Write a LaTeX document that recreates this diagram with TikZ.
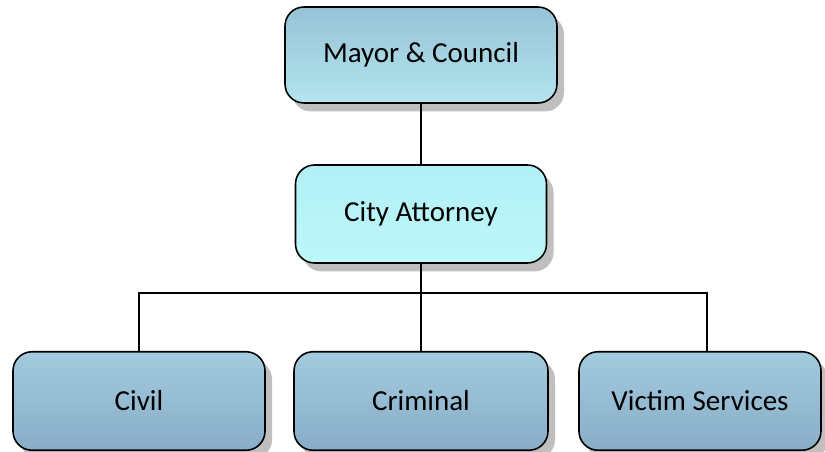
\documentclass[tikz,border=0pt]{standalone}
\usepackage{fontspec}
\setmainfont{Carlito}
\usetikzlibrary{shadows}

\definecolor{mayortop}{HTML}{96C3D6}
\definecolor{mayorbot}{HTML}{B4E4EF}
\definecolor{citytop}{HTML}{B2F0F6}
\definecolor{citybot}{HTML}{BCF7FA}
\definecolor{unittop}{HTML}{A2CBDE}
\definecolor{unitbot}{HTML}{89ADC8}

\tikzset{
	orgbox/.style={draw=black, line width=0.9pt, rounded corners=0.38cm,
		inner sep=0pt, align=center, font=\fontsize{16.5}{19}\selectfont,
		drop shadow={shadow xshift=0.14cm, shadow yshift=-0.17cm, fill=black!25, opacity=1}},
	toplevel/.style={orgbox, top color=mayortop, bottom color=mayorbot},
	attorney/.style={orgbox, top color=citytop, bottom color=citybot},
	unit/.style={orgbox, top color=unittop, bottom color=unitbot,
		minimum height=1.97cm},
	link/.style={draw=black, line width=0.9pt}
}

\begin{document}
\begin{tikzpicture}
		%%%%% START %%%%%
		
		\useasboundingbox (0, 0) rectangle (16.5, -9.04);
		
		\node[toplevel, minimum width=5.44cm, minimum height=1.92cm] (mayor) at (8.42, -1.10) {Mayor \& Council};
		\node[attorney, minimum width=5.02cm, minimum height=1.96cm] (city) at (8.42, -4.28) {City Attorney};
		
		\node[unit, minimum width=5.04cm] (civil) at (2.78, -8.02) {Civil};
		\node[unit, minimum width=5.08cm] (criminal) at (8.42, -8.02) {Criminal};
		\node[unit, minimum width=4.84cm] (victim) at (14.0, -8.02) {Victim Services};
		
		\draw[link] (mayor.south) -- (city.north);
		
		\draw[link] (city.south) -- ++(0, -0.58) coordinate (bus);
		\coordinate (vtap) at ([xshift=0.14cm]victim.north);
		\draw[link] (civil.north) |- (bus) -| (vtap);
		\draw[link] (bus) -- (criminal.north);
		
		%%%%% END %%%%%
\end{tikzpicture}
\end{document}
